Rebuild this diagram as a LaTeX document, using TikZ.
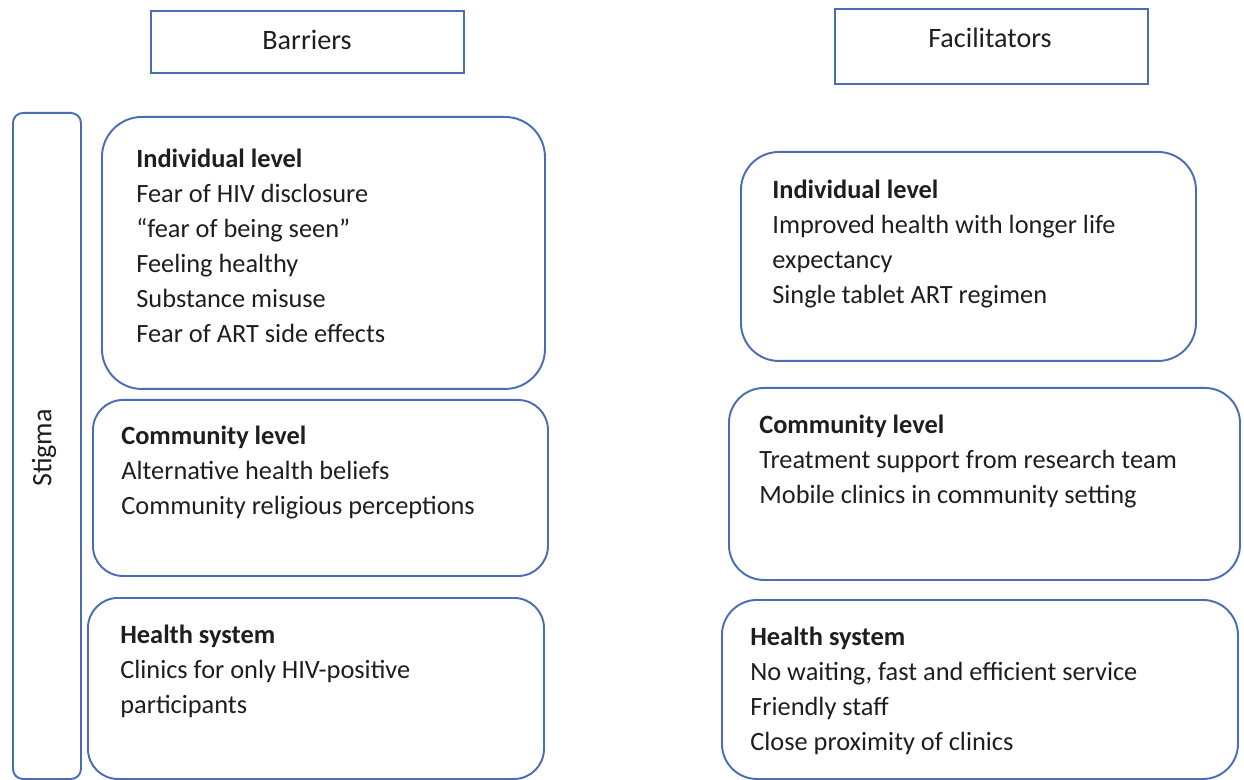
\documentclass[tikz,border=0pt]{standalone}
\usepackage{fontspec}
\setmainfont{Carlito}
\definecolor{boxblue}{HTML}{4A6DB5}
\definecolor{inktext}{HTML}{1E1E1E}
\newlength{\px}
\setlength{\px}{0.02cm}
\tikzset{
    % Le style des cadres d'en-tête (Barriers / Facilitators)
    header_box/.style={
        draw=boxblue,
        line width=1.1pt,
        anchor=north west
    },
    % Le style des cadres arrondis pour chaque niveau
    level_box/.style={
        draw=boxblue,
        line width=1.1pt,
        anchor=north west
    },
    % Les textes
    header_text/.style={
        text=inktext,
        font=\fontsize{16}{19}\selectfont
    },
    level_text/.style={
        text=inktext,
        anchor=north west,
        align=left,
        inner sep=0pt,
        font=\fontsize{15}{19.92}\selectfont
    }
}
\begin{document}
\begin{tikzpicture}[x=0.02cm, y=-0.02cm]

    \useasboundingbox (0,0) rectangle (1244,780);

    % --- 1. En-têtes ---
    \node[header_box, minimum width=313\px, minimum height=62\px] (barriers_box) at (150,10) {};
    \node[header_text] (barriers) at (307,40) {Barriers};
    \node[header_box, minimum width=313\px, minimum height=75\px] (facilitators_box) at (834,8) {};
    \node[header_text] (facilitators) at (990,38) {Facilitators};

    % --- 2. Colonne de gauche : barrières ---
    % Bande verticale "Stigma" qui couvre les trois niveaux
    \node[level_box, rounded corners=10\px, minimum width=68\px, minimum height=666\px] (stigma_box) at (12,112) {};
    \node[header_text, rotate=90] (stigma) at (44,448) {Stigma};

    \node[level_box, rounded corners=40\px, minimum width=443\px, minimum height=272\px] (b_individual) at (101,116) {};
    \node[level_text] (b_individual_t) at (136,149)
        {\textbf{Individual level}\\Fear of HIV disclosure\\“fear of being seen”\\Feeling healthy\\Substance misuse\\Fear of ART side effects};

    \node[level_box, rounded corners=30\px, minimum width=455\px, minimum height=176\px] (b_community) at (92,399) {};
    \node[level_text] (b_community_t) at (121,426)
        {\textbf{Community level}\\Alternative health beliefs\\Community religious perceptions};

    \node[level_box, rounded corners=30\px, minimum width=456\px, minimum height=181\px] (b_health) at (87,597) {};
    \node[level_text] (b_health_t) at (120,625)
        {\textbf{Health system}\\Clinics for only HIV-positive\\participants};

    % --- 3. Colonne de droite : facilitateurs ---
    \node[level_box, rounded corners=38\px, minimum width=455\px, minimum height=209\px] (f_individual) at (740,151) {};
    \node[level_text] (f_individual_t) at (772,180)
        {\textbf{Individual level}\\Improved health with longer life\\expectancy\\Single tablet ART regimen};

    \node[level_box, rounded corners=35\px, minimum width=511\px, minimum height=192\px] (f_community) at (728,387) {};
    \node[level_text] (f_community_t) at (759,415)
        {\textbf{Community level}\\Treatment support from research team\\Mobile clinics in community setting};

    \node[level_box, rounded corners=35\px, minimum width=516\px, minimum height=179\px] (f_health) at (721,599) {};
    \node[level_text] (f_health_t) at (750,627)
        {\textbf{Health system}\\No waiting, fast and efficient service\\Friendly staff\\Close proximity of clinics};

\end{tikzpicture}
\end{document}
